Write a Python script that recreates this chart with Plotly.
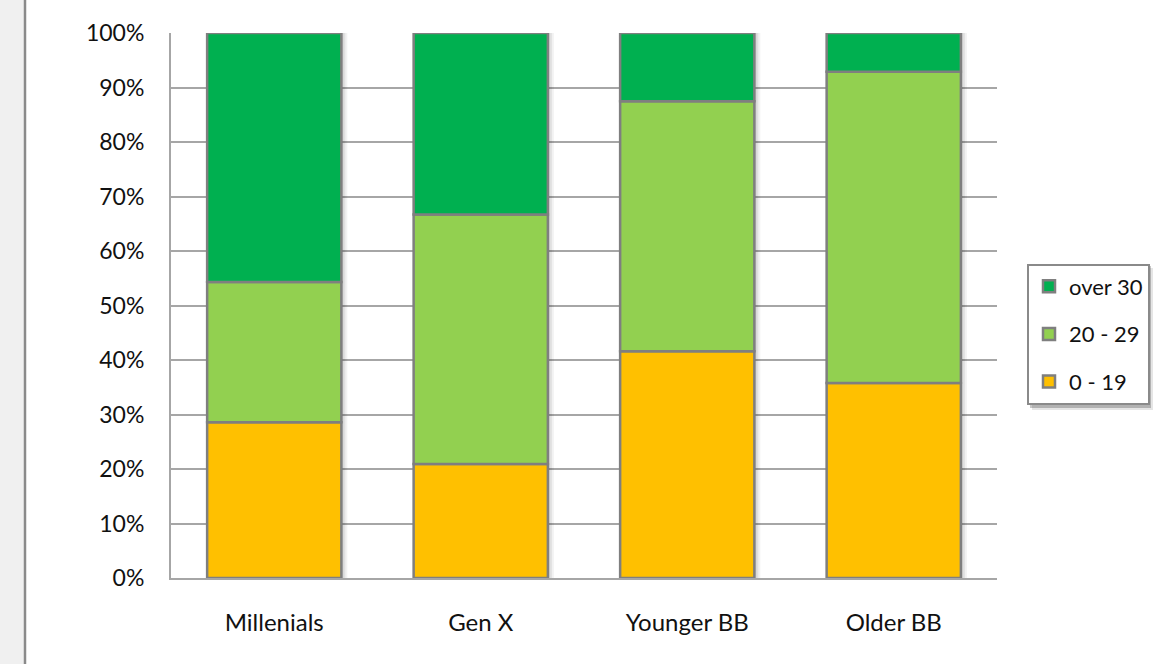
import plotly.graph_objects as go

# Share of each generation by age band (percent of the group)
generations = ["Millenials", "Gen X", "Younger BB", "Older BB"]
band_0_19 = [28.6, 20.9, 41.6, 35.8]
band_20_29 = [25.7, 45.8, 45.9, 57.1]
band_over_30 = [45.7, 33.3, 12.5, 7.1]

series = [
    ("0 - 19", band_0_19, "#FFC000"),
    ("20 - 29", band_20_29, "#92D050"),
    ("over 30", band_over_30, "#00B050"),
]

FONT = "Lato"
OUTLINE = "#7f7f7f"
BAR_W = 0.65
PX = 1 / 206.5  # one pixel in category units

totals = [a + b + c for a, b, c in zip(band_0_19, band_20_29, band_over_30)]

fig = go.Figure()

# soft drop shadow behind each column
for grow_l, grow_r, alpha in [(1, 6, 0.05), (0, 4, 0.07), (-1, 2, 0.08)]:
    fig.add_trace(go.Bar(
        x=generations,
        y=[t + 0.6 for t in totals],
        base=-0.6,
        offset=-BAR_W / 2 - grow_l * PX,
        width=BAR_W + (grow_l + grow_r) * PX,
        marker=dict(color=f"rgba(0,0,0,{alpha})", line=dict(width=0)),
        showlegend=False,
        hoverinfo="skip",
        cliponaxis=False,
    ))

# stacked columns, each band sitting on the bands below it; legend lists the top band first
base = [0.0] * len(generations)
for rank, (name, values, color) in enumerate(series):
    fig.add_trace(go.Bar(
        x=generations,
        y=values,
        base=list(base),
        name=name,
        legendgroup=name,
        legendrank=1000 - rank,
        offset=-BAR_W / 2,
        width=BAR_W,
        marker=dict(color=color, line=dict(color=OUTLINE, width=2.5)),
    ))
    base = [b + v for b, v in zip(base, values)]


def px_x(p):
    return (p - 171) / 826


def px_y(p):
    return (578 - p) / 545


# Page furniture: grey strip with a rule on the left, and the legend's drop shadow
shapes = [
    dict(type="rect", xref="paper", yref="paper", x0=-0.21, x1=px_x(25), y0=-0.2, y1=1.1,
         fillcolor="#f0f0f0", line=dict(width=0), layer="below"),
    dict(type="line", xref="paper", yref="paper", x0=px_x(25), x1=px_x(25), y0=-0.2, y1=1.1,
         line=dict(color="#8a8a8a", width=2.5)),
    dict(type="rect", xref="paper", yref="paper",
         x0=px_x(1032), x1=px_x(1153), y0=px_y(410), y1=px_y(268),
         fillcolor="rgba(0,0,0,0.10)", line=dict(width=0)),
    dict(type="rect", xref="paper", yref="paper",
         x0=px_x(1030), x1=px_x(1151), y0=px_y(408), y1=px_y(266),
         fillcolor="rgba(0,0,0,0.22)", line=dict(width=0)),
]

fig.update_layout(
    width=1154,
    height=664,
    barmode="overlay",
    paper_bgcolor="white",
    plot_bgcolor="white",
    margin=dict(l=171, r=157, t=33, b=86, autoexpand=False),
    font=dict(family=FONT, size=22, color="#111111"),
    shapes=shapes,
    legend=dict(
        traceorder="grouped",
        x=px_x(1027),
        xanchor="left",
        y=px_y(334),
        yanchor="middle",
        bgcolor="white",
        bordercolor="#8a8a8a",
        borderwidth=2,
        tracegroupgap=16,
        font=dict(family=FONT, size=22, color="#111111"),
        itemwidth=30,
    ),
    xaxis=dict(
        showline=True,
        linecolor="#a6a6a6",
        linewidth=2,
        ticks="",
        ticklabelstandoff=22,
        tickfont=dict(family=FONT, size=24),
        range=[-0.5, 3.5],
    ),
    yaxis=dict(
        range=[0, 100],
        tickvals=list(range(0, 101, 10)),
        ticktext=[f"{v}%" for v in range(0, 101, 10)],
        showgrid=True,
        gridcolor="#a6a6a6",
        gridwidth=2,
        showline=True,
        linecolor="#a6a6a6",
        linewidth=2,
        zeroline=False,
        ticks="",
        ticklabelstandoff=20,
        tickfont=dict(family=FONT, size=23),
    ),
)

fig.write_html("out.html")
